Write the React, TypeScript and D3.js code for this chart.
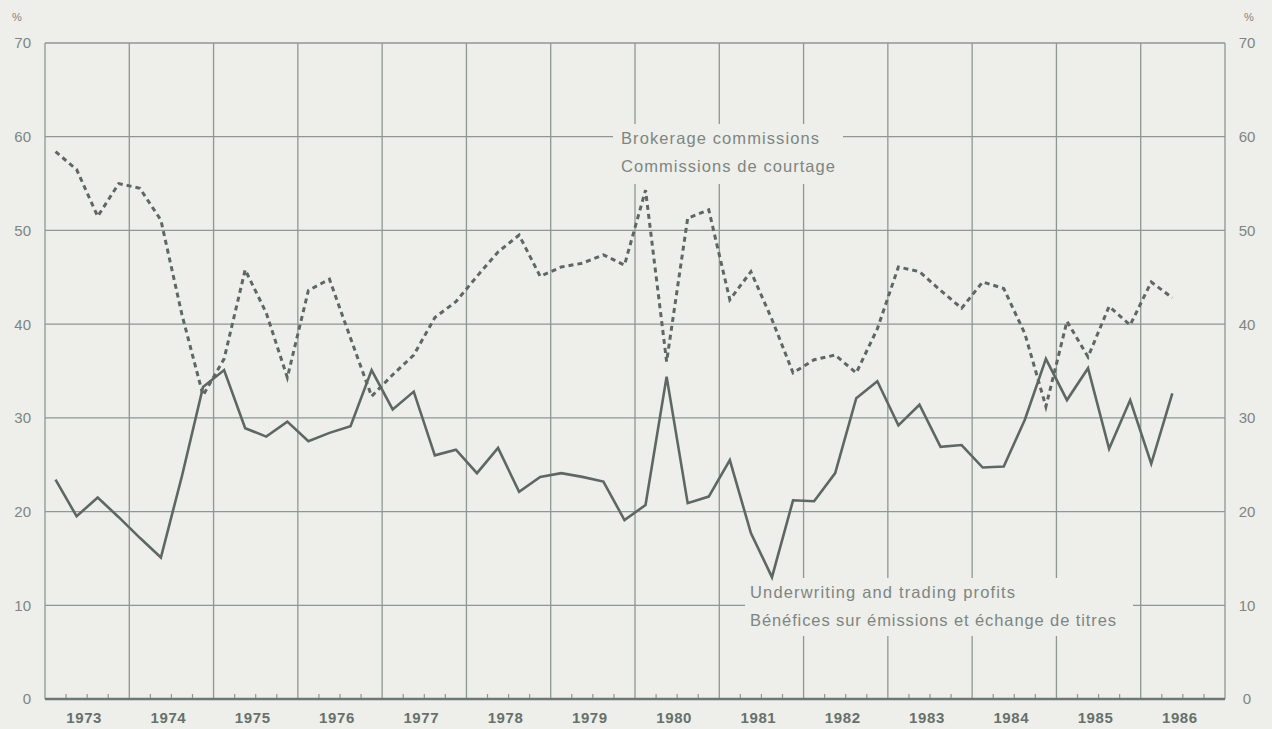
import React from "react";
import * as d3 from "d3";

// Quarterly data, 1973 Q1 – 1986 Q2 (percent)
const startYear = 1973;
const brokerage = [
  58.4, 56.5, 51.5, 55.0, 54.5, 51.1, 41.0, 32.4, 36.3, 45.8,
  41.2, 34.3, 43.6, 44.8, 38.5, 32.3, 34.6, 36.7, 40.7, 42.4,
  45.1, 47.7, 49.5, 45.1, 46.1, 46.5, 47.4, 46.3, 54.3, 36.0,
  51.3, 52.2, 42.6, 45.6, 40.5, 34.8, 36.2, 36.7, 34.8, 39.5,
  46.1, 45.6, 43.6, 41.7, 44.5, 43.8, 39.0, 31.2, 40.3, 36.5,
  41.9, 39.9, 44.5, 42.8,
];
const underwriting = [
  23.4, 19.5, 21.5, 19.4, 17.2, 15.1, 23.8, 33.3, 35.1, 28.9,
  28.0, 29.6, 27.5, 28.4, 29.1, 35.1, 30.9, 32.8, 26.0, 26.6,
  24.1, 26.8, 22.1, 23.7, 24.1, 23.7, 23.2, 19.1, 20.7, 34.4,
  20.9, 21.6, 25.5, 17.7, 13.0, 21.2, 21.1, 24.1, 32.1, 33.9,
  29.2, 31.4, 26.9, 27.1, 24.7, 24.8, 29.8, 36.3, 31.9, 35.3,
  26.7, 31.9, 25.1, 32.6,
];
const yearLabels = [
  "1973", "1974", "1975", "1976", "1977", "1978", "1979",
  "1980", "1981", "1982", "1983", "1984", "1985", "1986",
];
const yTicks = [0, 10, 20, 30, 40, 50, 60, 70];
const brokerageLabel = ["Brokerage commissions", "Commissions de courtage"];
const underwritingLabel = [
  "Underwriting and trading profits",
  "Bénéfices sur émissions et échange de titres",
];

const W = 1272;
const H = 729;
const BG = "#eeeeeb";
const GRID = "#8e9792";
const LINE = "#5d6863";
const TEXT = "#7d8682";
const FONT = "'Liberation Sans', Arial, Helvetica, sans-serif";

export default function App() {
  const x = d3.scaleLinear().domain([startYear, startYear + yearLabels.length]).range([45, 1225]);
  const y = d3.scaleLinear().domain([0, 70]).range([699, 43]);

  const t = (i: number) => startYear + (i + 0.5) / 4;
  const line = d3
    .line<number>()
    .x((_, i) => x(t(i)))
    .y((d) => y(d));

  const yearBounds = d3.range(startYear, startYear + yearLabels.length + 1);
  const quarterTicks: number[] = [];
  yearLabels.forEach((_, k) => {
    [0.25, 0.5, 0.75].forEach((q) => quarterTicks.push(startYear + k + q));
  });

  return (
    <div style={{ position: "absolute", left: 0, top: 0, width: W, height: H, overflow: "hidden" }}>
      <svg width={W} height={H} style={{ display: "block" }} fontFamily={FONT}>
        <rect x={0} y={0} width={W} height={H} fill={BG} />

        {/* horizontal grid */}
        {yTicks.filter((v) => v > 0).map((v) => (
          <line key={"h" + v} x1={x(startYear)} x2={x(startYear + yearLabels.length)} y1={y(v)} y2={y(v)} stroke={GRID} strokeWidth={1.3} />
        ))}
        {/* vertical grid */}
        {yearBounds.map((yr) => (
          <line key={"v" + yr} x1={x(yr)} x2={x(yr)} y1={y(70)} y2={y(0)} stroke={GRID} strokeWidth={1.3} />
        ))}
        {/* quarter ticks */}
        {quarterTicks.map((q, i) => (
          <line key={"q" + i} x1={x(q)} x2={x(q)} y1={y(0)} y2={y(0) - 5} stroke={GRID} strokeWidth={1.2} />
        ))}
        {/* bottom axis */}
        <line x1={x(startYear)} x2={x(startYear + yearLabels.length)} y1={y(0)} y2={y(0)} stroke="#6e7873" strokeWidth={2.4} />

        {/* label background masks */}
        <rect x={613} y={124} width={230} height={60} fill={BG} />
        <rect x={745} y={578} width={388} height={58} fill={BG} />

        {/* series */}
        <path d={line(underwriting) || ""} fill="none" stroke={LINE} strokeWidth={2.6} strokeLinejoin="miter" />
        <path d={line(brokerage) || ""} fill="none" stroke={LINE} strokeWidth={3} strokeDasharray="5,4" />

        {/* y-axis labels */}
        {yTicks.map((v) => (
          <text key={"yl" + v} x={31} y={y(v)} dy="0.36em" textAnchor="end" fontSize={15} fill={TEXT}>{v}</text>
        ))}
        {yTicks.map((v) => (
          <text key={"yr" + v} x={1247} y={y(v)} dy="0.36em" textAnchor="middle" fontSize={15} fill={TEXT}>{v}</text>
        ))}
        <text x={17} y={21} textAnchor="middle" fontSize={11} fill={TEXT}>%</text>
        <text x={1249} y={21} textAnchor="middle" fontSize={11} fill={TEXT}>%</text>

        {/* year labels */}
        {yearLabels.map((lab, k) => (
          <text key={lab} x={x(startYear + k + 0.5) - 3} y={723} textAnchor="middle" fontSize={15} fontWeight="bold" letterSpacing={0.6} fill="#66716c">{lab}</text>
        ))}

        {/* series labels */}
        <text x={621} y={144} fontSize={16.5} fill={TEXT} textLength={198} lengthAdjust="spacing">{brokerageLabel[0]}</text>
        <text x={621} y={172} fontSize={16.5} fill={TEXT} textLength={214} lengthAdjust="spacing">{brokerageLabel[1]}</text>
        <text x={750} y={598} fontSize={16.5} fill={TEXT} textLength={265} lengthAdjust="spacing">{underwritingLabel[0]}</text>
        <text x={750} y={626} fontSize={16.5} fill={TEXT} textLength={366} lengthAdjust="spacing">{underwritingLabel[1]}</text>
      </svg>
    </div>
  );
}
